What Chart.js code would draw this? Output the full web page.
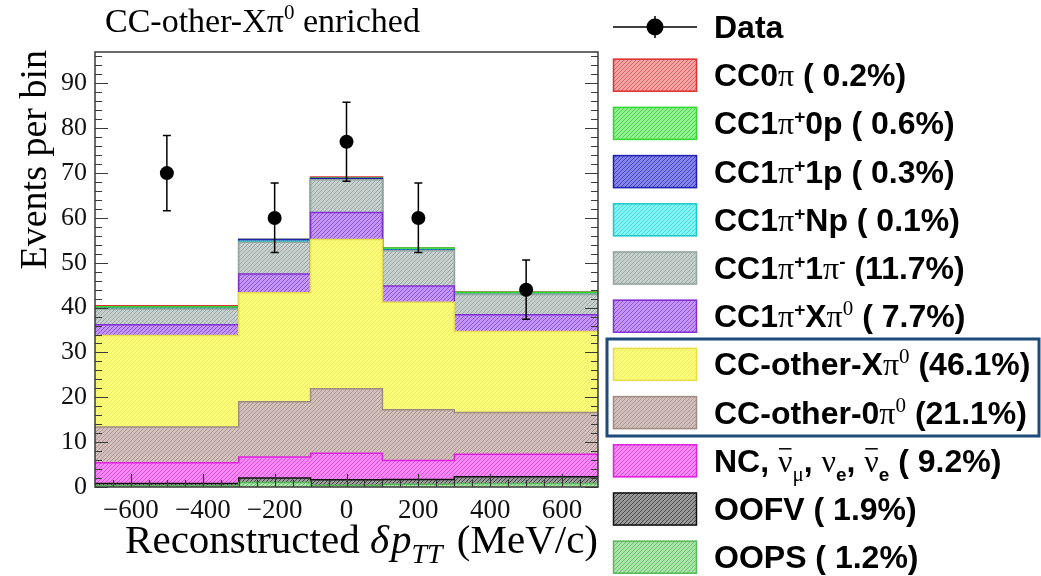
<!DOCTYPE html>
<html>
<head>
<meta charset="utf-8">
<script src="https://cdn.jsdelivr.net/npm/chart.js@4.4.1/dist/chart.umd.min.js"></script>
<style>
  html, body { margin: 0; padding: 0; background: #ffffff; }
  #wrap { width: 1041px; height: 576px; position: relative; }
</style>
</head>
<body>
<div id="wrap"><canvas id="c" width="1041" height="576"></canvas></div>
<script>
// Bin edges of reconstructed delta p_TT (MeV/c)
const binEdges = [-700, -300, -100, 100, 300, 700];
const binCentres = [-500, -200, 0, 200, 500];

// Observed events and their error-bar limits
const dataCounts = [70, 60, 77, 60, 44];
const dataErrLow = [61.6, 52.3, 68.2, 52.3, 37.4];
const dataErrHigh = [78.4, 67.8, 85.8, 67.8, 50.6];

// Simulated contributions per bin (stacked from the bottom up)
const oops     = [0.3, 1.0, 0.4, 0.6, 0.8];
const oofv     = [0.5, 1.0, 1.2, 1.1, 1.5];
const ncOther  = [4.6, 4.7, 5.9, 4.2, 5.0];
const ccOther0 = [8.0, 12.3, 14.4, 11.3, 9.3];
const ccOtherX = [20.4, 24.3, 33.3, 24.0, 18.1];
const cc1piXpi0 = [2.4, 4.2, 6.0, 3.6, 3.7];
const cc1pi1pim = [3.5, 7.1, 7.3, 7.9, 4.5];
const cc1piNp  = [0.0, 0.2, 0.0, 0.1, 0.0];
const cc1pi1p  = [0.1, 0.4, 0.3, 0.1, 0.0];
const cc1pi0p  = [0.4, 0.0, 0.1, 0.4, 0.5];
const cc0pi    = [0.2, 0.0, 0.2, 0.0, 0.1];

// Legend shares (% of the simulated total), top entry first
const legendPercents = [0.2, 0.6, 0.3, 0.1, 11.7, 7.7, 46.1, 21.1, 9.2, 1.9, 1.2];

// Axis tick values
const yTickValues = [0, 10, 20, 30, 40, 50, 60, 70, 80, 90];
const xTickValues = [-600, -400, -200, 0, 200, 400, 600];

const canvas = document.getElementById('c');
const ctx0 = canvas.getContext('2d');

function hatch(base, line, step) {
  const t = document.createElement('canvas');
  t.width = step; t.height = step;
  const g = t.getContext('2d');
  g.fillStyle = base;
  g.fillRect(0, 0, step, step);
  g.strokeStyle = line;
  g.lineWidth = 1;
  g.beginPath();
  g.moveTo(0, step); g.lineTo(step, 0);
  g.moveTo(-1, 1); g.lineTo(1, -1);
  g.moveTo(step - 1, step + 1); g.lineTo(step + 1, step - 1);
  g.stroke();
  return ctx0.createPattern(t, 'repeat');
}

const SANS = '"Liberation Sans", Arial, sans-serif';
const SERIF = '"Liberation Serif", "Times New Roman", serif';
const B = 'bold 32px ' + SANS;
const SYM = '32px ' + SERIF;
const SUPB = 'bold 19px ' + SANS;
const SUPS = '21px ' + SERIF;

// Components: bottom of the stack first
const components = [
  { values: oops,      base: '#a9e3a9', line: '#6cc46c', border: '#5cb85c',
    name: [{ t: 'OOPS', f: B }] },
  { values: oofv,      base: '#9a9a9a', line: '#4a4a4a', border: '#111111',
    name: [{ t: 'OOFV', f: B }] },
  { values: ncOther,   base: '#f58af5', line: '#e04ce0', border: '#e020e0',
    name: [{ t: 'NC, ', f: B }, { t: '\u03bd', f: SYM, bar: true }, { t: '\u03bc', f: SUPS, dy: 9 },
           { t: ', ', f: B }, { t: '\u03bd', f: SYM }, { t: 'e', f: SUPB, dy: 9 },
           { t: ', ', f: B }, { t: '\u03bd', f: SYM, bar: true }, { t: 'e', f: SUPB, dy: 9 }] },
  { values: ccOther0,  base: '#d3c0bc', line: '#ab9793', border: '#a08a84',
    name: [{ t: 'CC-other-0', f: B }, { t: '\u03c0', f: SYM }, { t: '0', f: SUPS, dy: -12 }] },
  { values: ccOtherX,  base: '#fbfb7a', line: '#efef62', border: '#e6dc4c',
    name: [{ t: 'CC-other-X', f: B }, { t: '\u03c0', f: SYM }, { t: '0', f: SUPS, dy: -12 }] },
  { values: cc1piXpi0, base: '#c395f5', line: '#9456e2', border: '#8030d0',
    name: [{ t: 'CC1', f: B }, { t: '\u03c0', f: SYM }, { t: '+', f: SUPB, dy: -11 },
           { t: 'X', f: B }, { t: '\u03c0', f: SYM }, { t: '0', f: SUPS, dy: -12 }] },
  { values: cc1pi1pim, base: '#c6cfcc', line: '#9aaaa6', border: '#95a5a1',
    name: [{ t: 'CC1', f: B }, { t: '\u03c0', f: SYM }, { t: '+', f: SUPB, dy: -11 },
           { t: '1', f: B }, { t: '\u03c0', f: SYM }, { t: '-', f: SUPB, dy: -11 }] },
  { values: cc1piNp,   base: '#84f4f4', line: '#44dada', border: '#20c8c8',
    name: [{ t: 'CC1', f: B }, { t: '\u03c0', f: SYM }, { t: '+', f: SUPB, dy: -11 }, { t: 'Np', f: B }] },
  { values: cc1pi1p,   base: '#8484ea', line: '#4646c4', border: '#2020b0',
    name: [{ t: 'CC1', f: B }, { t: '\u03c0', f: SYM }, { t: '+', f: SUPB, dy: -11 }, { t: '1p', f: B }] },
  { values: cc1pi0p,   base: '#92f292', line: '#52d452', border: '#30d830',
    name: [{ t: 'CC1', f: B }, { t: '\u03c0', f: SYM }, { t: '+', f: SUPB, dy: -11 }, { t: '0p', f: B }] },
  { values: cc0pi,     base: '#f5a3a3', line: '#e26464', border: '#e03030',
    name: [{ t: 'CC0', f: B }, { t: '\u03c0', f: SYM }] }
];
components.forEach(c => { c.pattern = hatch(c.base, c.line, 4); });

function toSteps(values) {
  return binEdges.map((x, i) => ({ x: x, y: values[Math.min(i, values.length - 1)] }));
}

const histDatasets = components.map((c, i) => ({
  type: 'line',
  label: c.name.map(p => p.t).join(''),
  data: toSteps(c.values),
  stepped: 'before',
  fill: i === 0 ? 'origin' : '-1',
  backgroundColor: c.pattern,
  borderColor: c.border,
  borderWidth: 1.5,
  pointRadius: 0,
  stack: 'mc',
  order: 0
}));

const dataDataset = {
  type: 'line',
  label: 'Data',
  data: binCentres.map((x, i) => ({ x: x, y: dataCounts[i] })),
  showLine: false,
  pointRadius: 7,
  pointBackgroundColor: '#000000',
  pointBorderColor: '#000000',
  pointBorderWidth: 0,
  stack: 'data',
  order: -1
};

function drawRich(ctx, x, y, parts) {
  let cx = x;
  parts.forEach(p => {
    ctx.font = p.f;
    const w = ctx.measureText(p.t).width;
    ctx.fillText(p.t, cx, y + (p.dy || 0));
    if (p.bar) {
      ctx.save();
      ctx.lineWidth = 1.5;
      ctx.beginPath();
      ctx.moveTo(cx + 1, y - 23);
      ctx.lineTo(cx + w - 1, y - 23);
      ctx.stroke();
      ctx.restore();
    }
    cx += w + (p.gap || 0);
  });
  return cx - x;
}
function richWidth(ctx, parts) {
  let w = 0;
  parts.forEach(p => { ctx.font = p.f; w += ctx.measureText(p.t).width + (p.gap || 0); });
  return w;
}

const decorations = {
  id: 'decorations',
  afterDatasetsDraw(chart) {
    const { ctx, chartArea: a, scales } = chart;
    const xs = scales.x, ys = scales.y;
    ctx.save();
    // error bars on the data points
    ctx.strokeStyle = '#000000';
    ctx.lineWidth = 1.5;
    binCentres.forEach((xv, i) => {
      const px = xs.getPixelForValue(xv);
      const lo = ys.getPixelForValue(dataErrLow[i]);
      const hi = ys.getPixelForValue(dataErrHigh[i]);
      ctx.beginPath();
      ctx.moveTo(px, lo); ctx.lineTo(px, hi);
      ctx.moveTo(px - 4, lo); ctx.lineTo(px + 4, lo);
      ctx.moveTo(px - 4, hi); ctx.lineTo(px + 4, hi);
      ctx.stroke();
    });
    // frame
    ctx.strokeStyle = '#3a3a3a';
    ctx.lineWidth = 1.5;
    ctx.strokeRect(a.left, a.top, a.right - a.left, a.bottom - a.top);
    // y ticks, both sides
    ctx.lineWidth = 1.2;
    ctx.beginPath();
    for (let v = 0; v <= 96; v += 2) {
      const py = Math.round(ys.getPixelForValue(v)) + 0.5;
      const len = v % 10 === 0 ? 13 : 7;
      ctx.moveTo(a.left, py); ctx.lineTo(a.left + len, py);
      ctx.moveTo(a.right, py); ctx.lineTo(a.right - len, py);
    }
    // x ticks along the bottom
    for (let v = -650; v <= 650; v += 50) {
      const px = Math.round(xs.getPixelForValue(v)) + 0.5;
      const len = v % 200 === 0 ? 13 : 7;
      ctx.moveTo(px, a.bottom); ctx.lineTo(px, a.bottom - len);
    }
    ctx.stroke();
    ctx.restore();
  },
  afterDraw(chart) {
    const { ctx, chartArea: a } = chart;
    ctx.save();
    ctx.fillStyle = '#000000';
    ctx.strokeStyle = '#000000';
    ctx.textAlign = 'left';
    ctx.textBaseline = 'alphabetic';

    // title
    drawRich(ctx, 105, 32, [
      { t: 'CC-other-X', f: '34px ' + SERIF },
      { t: '\u03c0', f: '34px ' + SERIF },
      { t: '0', f: '21px ' + SERIF, dy: -13 },
      { t: ' enriched', f: '34px ' + SERIF }
    ]);

    // y-axis title, aligned with the top of the axis
    ctx.save();
    ctx.translate(46, a.top - 2);
    ctx.rotate(-Math.PI / 2);
    ctx.textAlign = 'right';
    ctx.font = '38px ' + SERIF;
    ctx.fillText('Events per bin', 0, 0);
    ctx.restore();

    // x-axis title, aligned with the right end of the axis
    const xt = [
      { t: 'Reconstructed ', f: '41px ' + SERIF },
      { t: '\u03b4', f: 'italic 41px ' + SERIF, gap: 2 },
      { t: 'p', f: 'italic 41px ' + SERIF },
      { t: 'TT', f: 'italic 28px ' + SERIF, dy: 10, gap: 4 },
      { t: ' (MeV/c)', f: '41px ' + SERIF }
    ];
    drawRich(ctx, a.right - richWidth(ctx, xt), 553, xt);

    // legend
    const boxX = 613, boxW = 84, boxH = 33, textX = 714;
    const rowY0 = 27, pitch = 48.2;
    // data entry
    ctx.lineWidth = 1.5;
    ctx.beginPath();
    ctx.moveTo(boxX, rowY0); ctx.lineTo(boxX + boxW, rowY0);
    ctx.moveTo(boxX + boxW / 2, rowY0 - 11); ctx.lineTo(boxX + boxW / 2, rowY0 + 11);
    ctx.stroke();
    ctx.beginPath();
    ctx.arc(boxX + boxW / 2, rowY0, 8.5, 0, Math.PI * 2);
    ctx.fill();
    drawRich(ctx, textX, rowY0 + 11, [{ t: 'Data', f: B }]);

    const order = components.slice().reverse();
    order.forEach((c, i) => {
      const cy = rowY0 + pitch * (i + 1);
      ctx.fillStyle = c.pattern;
      ctx.fillRect(boxX, cy - boxH / 2, boxW, boxH);
      ctx.strokeStyle = c.border;
      ctx.lineWidth = 1.5;
      ctx.strokeRect(boxX + 0.5, cy - boxH / 2 + 0.5, boxW - 1, boxH - 1);
      ctx.fillStyle = '#000000';
      ctx.strokeStyle = '#000000';
      const pct = legendPercents[i];
      const pctText = pct < 10 ? ' ( ' + pct.toFixed(1) + '%)' : ' (' + pct.toFixed(1) + '%)';
      drawRich(ctx, textX, cy + 11, c.name.concat([{ t: pctText, f: B }]));
    });

    // highlight around the CC-other entries
    ctx.strokeStyle = '#1e4a7c';
    ctx.lineWidth = 3;
    ctx.strokeRect(607, 339, 432, 97);
    ctx.restore();
  }
};

new Chart(canvas, {
  type: 'line',
  data: { datasets: histDatasets.concat([dataDataset]) },
  options: {
    responsive: false,
    animation: false,
    devicePixelRatio: 1,
    layout: { padding: { left: 0, right: 443, top: 52, bottom: 0 } },
    plugins: { legend: { display: false }, tooltip: { enabled: false }, title: { display: false } },
    scales: {
      x: {
        type: 'linear',
        min: -700, max: 700,
        grid: { display: false, drawTicks: false },
        border: { display: false },
        afterBuildTicks: s => { s.ticks = xTickValues.map(v => ({ value: v })); },
        afterFit: s => { s.height = 89; },
        ticks: {
          padding: 8,
          maxRotation: 0,
          autoSkip: false,
          color: '#111111',
          font: { family: 'Liberation Serif', size: 27 },
          callback: v => String(v).replace('-', '\u2212')
        }
      },
      y: {
        type: 'linear',
        stacked: true,
        min: 0, max: 97,
        grid: { display: false, drawTicks: false },
        border: { display: false },
        afterBuildTicks: s => { s.ticks = yTickValues.map(v => ({ value: v })); },
        afterFit: s => { s.width = 95; },
        ticks: {
          padding: 8,
          color: '#111111',
          font: { family: 'Liberation Serif', size: 26 }
        }
      }
    }
  },
  plugins: [decorations]
});
</script>
</body>
</html>
